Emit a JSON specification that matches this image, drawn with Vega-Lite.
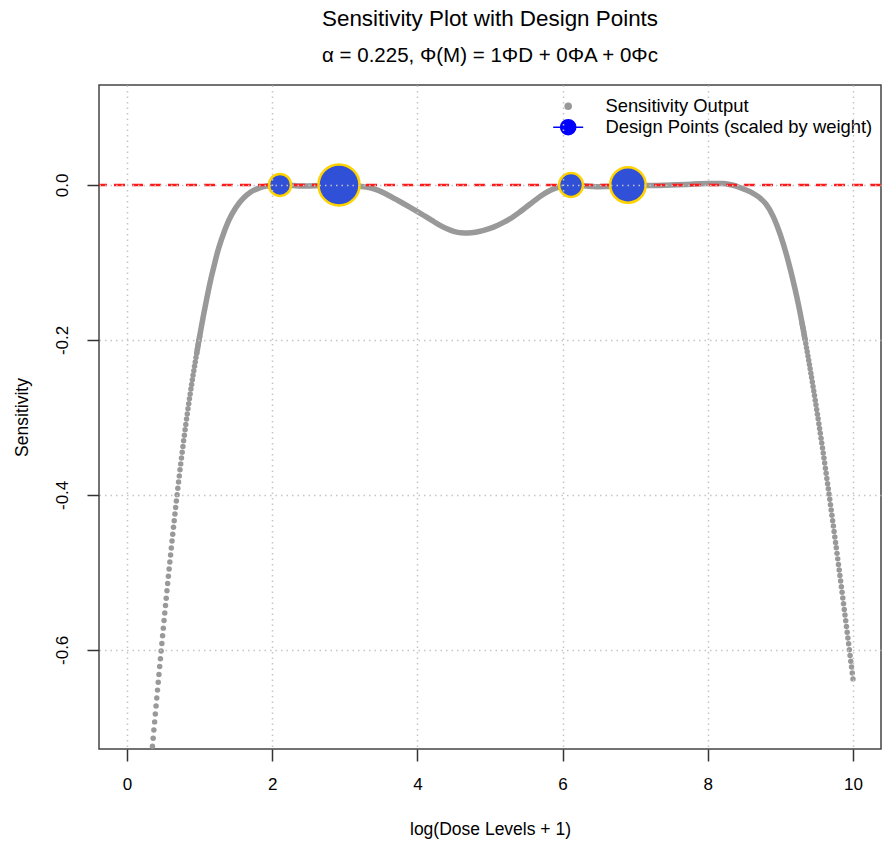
{
"$schema":"https://vega.github.io/schema/vega-lite/v6.json",
"width":782,"height":664,
"autosize":{"type":"none"},
"padding":{"left":99,"top":85,"right":2,"bottom":95},
"background":"white",
"config":{"font":"Liberation Sans","view":{"stroke":"#444","strokeWidth":1.5}},
"title":{"text":"Sensitivity Plot with Design Points","subtitle":"α = 0.225, Φ(M) = 1ΦD + 0ΦA + 0Φc","fontSize":22.4,"fontWeight":"normal","color":"#000","subtitleFontSize":20.5,"subtitleColor":"#000","subtitleFont":"Liberation Sans","subtitlePadding":15,"offset":19,"anchor":"middle"},
"datasets":{
"curve":[
{"x":0.35,"y":-0.7245},{"x":0.36,"y":-0.7140},{"x":0.37,"y":-0.7035},{"x":0.38,"y":-0.6930},{"x":0.39,"y":-0.6827},{"x":0.40,"y":-0.6725},
{"x":0.41,"y":-0.6622},{"x":0.42,"y":-0.6520},{"x":0.43,"y":-0.6418},{"x":0.44,"y":-0.6317},{"x":0.45,"y":-0.6216},{"x":0.46,"y":-0.6116},{"x":0.47,"y":-0.6016},{"x":0.48,"y":-0.5917},{"x":0.49,"y":-0.5818},{"x":0.50,"y":-0.5720},
{"x":0.51,"y":-0.5622},{"x":0.52,"y":-0.5525},{"x":0.53,"y":-0.5429},{"x":0.54,"y":-0.5333},{"x":0.55,"y":-0.5238},{"x":0.56,"y":-0.5144},{"x":0.57,"y":-0.5051},{"x":0.58,"y":-0.4958},{"x":0.59,"y":-0.4866},{"x":0.60,"y":-0.4775},
{"x":0.61,"y":-0.4685},{"x":0.62,"y":-0.4595},{"x":0.63,"y":-0.4507},{"x":0.64,"y":-0.4419},{"x":0.65,"y":-0.4333},{"x":0.66,"y":-0.4247},{"x":0.67,"y":-0.4163},{"x":0.68,"y":-0.4079},{"x":0.69,"y":-0.3997},{"x":0.70,"y":-0.3915},
{"x":0.71,"y":-0.3835},{"x":0.72,"y":-0.3755},{"x":0.73,"y":-0.3677},{"x":0.74,"y":-0.3600},{"x":0.75,"y":-0.3524},{"x":0.76,"y":-0.3449},{"x":0.77,"y":-0.3375},{"x":0.78,"y":-0.3302},{"x":0.79,"y":-0.3231},{"x":0.80,"y":-0.3160},
{"x":0.81,"y":-0.3091},{"x":0.82,"y":-0.3022},{"x":0.83,"y":-0.2955},{"x":0.84,"y":-0.2889},{"x":0.85,"y":-0.2824},{"x":0.86,"y":-0.2760},{"x":0.87,"y":-0.2697},{"x":0.88,"y":-0.2635},{"x":0.89,"y":-0.2575},{"x":0.90,"y":-0.2515},
{"x":0.91,"y":-0.2456},{"x":0.92,"y":-0.2398},{"x":0.93,"y":-0.2341},{"x":0.94,"y":-0.2284},{"x":0.95,"y":-0.2228},{"x":0.96,"y":-0.2172},{"x":0.97,"y":-0.2117},{"x":0.98,"y":-0.2062},{"x":0.99,"y":-0.2008},{"x":1.00,"y":-0.1955},
{"x":1.05,"y":-0.1699},{"x":1.10,"y":-0.1460},{"x":1.15,"y":-0.1235},{"x":1.20,"y":-0.1040},{"x":1.25,"y":-0.0856},{"x":1.30,"y":-0.0705},
{"x":1.4,"y":-0.0460},{"x":1.5,"y":-0.0290},{"x":1.6,"y":-0.0173},{"x":1.7,"y":-0.0095},{"x":1.8,"y":-0.0047},{"x":1.9,"y":-0.0019},{"x":2.0,"y":-0.0005},
{"x":2.1,"y":0.0},{"x":2.2,"y":-0.0003},{"x":2.3,"y":-0.0008},{"x":2.4,"y":-0.0012},{"x":2.5,"y":-0.0013},{"x":2.6,"y":-0.0011},{"x":2.7,"y":-0.0007},{"x":2.8,"y":-0.0003},{"x":2.9,"y":0.0},
{"x":3.0,"y":-0.0002},{"x":3.1,"y":-0.0007},{"x":3.2,"y":-0.0015},{"x":3.3,"y":-0.0028},{"x":3.4,"y":-0.0052},{"x":3.5,"y":-0.0086},{"x":3.6,"y":-0.0133},{"x":3.7,"y":-0.0184},{"x":3.8,"y":-0.0236},{"x":3.9,"y":-0.0289},
{"x":4.0,"y":-0.0343},{"x":4.1,"y":-0.0400},{"x":4.2,"y":-0.0458},{"x":4.3,"y":-0.0515},{"x":4.4,"y":-0.0563},{"x":4.5,"y":-0.0598},{"x":4.6,"y":-0.0617},{"x":4.7,"y":-0.0620},{"x":4.8,"y":-0.0610},{"x":4.9,"y":-0.0590},
{"x":5.0,"y":-0.0560},{"x":5.1,"y":-0.0522},{"x":5.2,"y":-0.0477},{"x":5.3,"y":-0.0423},{"x":5.4,"y":-0.0357},{"x":5.5,"y":-0.0285},{"x":5.6,"y":-0.0212},{"x":5.7,"y":-0.0143},{"x":5.8,"y":-0.0085},{"x":5.9,"y":-0.0043},
{"x":6.0,"y":-0.0015},{"x":6.1,"y":-0.0001},{"x":6.2,"y":-0.0004},{"x":6.3,"y":-0.0012},{"x":6.4,"y":-0.0019},{"x":6.5,"y":-0.0023},{"x":6.6,"y":-0.0021},{"x":6.7,"y":-0.0014},{"x":6.8,"y":-0.0005},{"x":6.9,"y":0.0},
{"x":7.0,"y":-0.0003},{"x":7.1,"y":-0.0006},{"x":7.2,"y":-0.0007},{"x":7.3,"y":-0.0006},{"x":7.4,"y":-0.0004},{"x":7.5,"y":-0.0001},{"x":7.6,"y":0.0003},{"x":7.7,"y":0.0007},{"x":7.8,"y":0.0011},{"x":7.9,"y":0.0015},
{"x":8.0,"y":0.0018},{"x":8.1,"y":0.0020},{"x":8.2,"y":0.0018},{"x":8.3,"y":0.0006},{"x":8.4,"y":-0.0018},{"x":8.5,"y":-0.0055},{"x":8.6,"y":-0.0095},{"x":8.7,"y":-0.0155},{"x":8.8,"y":-0.0245},{"x":8.9,"y":-0.0405},
{"x":9.0,"y":-0.0645},{"x":9.1,"y":-0.0955},{"x":9.2,"y":-0.1335},{"x":9.25,"y":-0.1550},
{"x":9.30,"y":-0.1790},{"x":9.31,"y":-0.1840},{"x":9.32,"y":-0.1891},{"x":9.33,"y":-0.1943},{"x":9.34,"y":-0.1994},{"x":9.35,"y":-0.2047},{"x":9.36,"y":-0.2100},{"x":9.37,"y":-0.2154},{"x":9.38,"y":-0.2208},{"x":9.39,"y":-0.2262},{"x":9.40,"y":-0.2318},
{"x":9.41,"y":-0.2373},{"x":9.42,"y":-0.2430},{"x":9.43,"y":-0.2486},{"x":9.44,"y":-0.2544},{"x":9.45,"y":-0.2601},{"x":9.46,"y":-0.2660},{"x":9.47,"y":-0.2718},{"x":9.48,"y":-0.2778},{"x":9.49,"y":-0.2837},{"x":9.50,"y":-0.2898},
{"x":9.51,"y":-0.2958},{"x":9.52,"y":-0.3019},{"x":9.53,"y":-0.3081},{"x":9.54,"y":-0.3143},{"x":9.55,"y":-0.3206},{"x":9.56,"y":-0.3269},{"x":9.57,"y":-0.3332},{"x":9.58,"y":-0.3396},{"x":9.59,"y":-0.3460},{"x":9.60,"y":-0.3525},
{"x":9.61,"y":-0.3590},{"x":9.62,"y":-0.3656},{"x":9.63,"y":-0.3722},{"x":9.64,"y":-0.3788},{"x":9.65,"y":-0.3855},{"x":9.66,"y":-0.3922},{"x":9.67,"y":-0.3990},{"x":9.68,"y":-0.4058},{"x":9.69,"y":-0.4126},{"x":9.70,"y":-0.4195},
{"x":9.71,"y":-0.4264},{"x":9.72,"y":-0.4334},{"x":9.73,"y":-0.4403},{"x":9.74,"y":-0.4473},{"x":9.75,"y":-0.4543},{"x":9.76,"y":-0.4614},{"x":9.77,"y":-0.4684},{"x":9.78,"y":-0.4755},{"x":9.79,"y":-0.4826},{"x":9.80,"y":-0.4898},
{"x":9.81,"y":-0.4969},{"x":9.82,"y":-0.5041},{"x":9.83,"y":-0.5113},{"x":9.84,"y":-0.5186},{"x":9.85,"y":-0.5258},{"x":9.86,"y":-0.5331},{"x":9.87,"y":-0.5404},{"x":9.88,"y":-0.5478},{"x":9.89,"y":-0.5551},{"x":9.90,"y":-0.5625},
{"x":9.91,"y":-0.5699},{"x":9.92,"y":-0.5773},{"x":9.93,"y":-0.5848},{"x":9.94,"y":-0.5923},{"x":9.95,"y":-0.5998},{"x":9.96,"y":-0.6073},{"x":9.97,"y":-0.6148},{"x":9.98,"y":-0.6223},{"x":9.99,"y":-0.6299},{"x":10.00,"y":-0.6375}
],
"design":[
{"x":2.107,"y":0,"w":0.18},{"x":2.92,"y":0,"w":0.335},{"x":6.116,"y":0,"w":0.195},{"x":6.90,"y":0,"w":0.29}
]},
"layer":[
{"data":{"name":"curve"},"transform":[{"filter":"datum.x >= 0.96 && datum.x <= 9.34"}],
 "mark":{"type":"line","strokeWidth":5.5,"interpolate":"monotone","strokeCap":"round"},
 "encoding":{
  "x":{"field":"x","type":"quantitative","scale":{"domain":[-0.386,10.386],"nice":false,"zero":false},
   "axis":{"title":"log(Dose Levels + 1)","values":[0,2,4,6,8,10],"format":"d","grid":true,"gridColor":"#c4c4c4","gridDash":[1.5,4],"gridWidth":1.5,"domain":false,"tickSize":12,"tickColor":"#333","tickWidth":1.5,"labelFontSize":17,"labelColor":"#000","labelPadding":15,"labelFlush":false,"labelOverlap":false,"titleFontSize":17.5,"titleFontWeight":"normal","titleColor":"#000","titlePadding":28,"zindex":1}},
  "y":{"field":"y","type":"quantitative","scale":{"domain":[-0.728,0.129],"nice":false,"zero":false},
   "axis":{"title":"Sensitivity","values":[-0.6,-0.4,-0.2,0],"labelExpr":"datum.value == 0 ? '0.0' : '-' + format(-datum.value, '.1f')","labelAngle":-90,"labelAlign":"center","labelBaseline":"bottom","grid":true,"gridColor":"#c4c4c4","gridDash":[1.5,4],"gridWidth":1.5,"domain":false,"tickSize":12,"tickColor":"#333","tickWidth":1.5,"labelFontSize":17,"labelColor":"#000","labelPadding":16,"labelOverlap":false,"titleFontSize":17.5,"titleFontWeight":"normal","titleColor":"#000","titlePadding":22,"zindex":1}},
  "color":{"datum":"Sensitivity Output","type":"nominal","scale":{"domain":["Sensitivity Output","Design Points (scaled by weight)"],"range":["#999999","#0000ff"]},
   "legend":{"title":null,"orient":"none","legendX":460,"legendY":12,"padding":0,"labelFontSize":18.4,"labelColor":"#000","labelLimit":0,"labelOffset":28,"symbolSize":36,"rowPadding":0,"symbolType":"circle",
    "encode":{"symbols":{"update":{
     "shape":{"signal":"datum.value === 'Sensitivity Output' ? 'circle' : 'M-2,0L2,0M1,0A1,1,0,1,1,-1,0A1,1,0,1,1,1,0Z'"},
     "size":{"signal":"datum.value === 'Sensitivity Output' ? 36 : 225"},
     "fill":{"signal":"datum.value === 'Sensitivity Output' ? '#999999' : '#0000ff'"},
     "stroke":{"signal":"datum.value === 'Sensitivity Output' ? 'transparent' : '#0000ff'"},
     "strokeWidth":{"value":1.6},"opacity":{"value":1},"fillOpacity":{"value":1}}}}}}
 }},
{"data":{"name":"curve"},"transform":[{"filter":"datum.x <= 1.0 || datum.x >= 9.3"}],
 "mark":{"type":"point","filled":true,"size":30,"opacity":1},
 "encoding":{
  "x":{"field":"x","type":"quantitative"},
  "y":{"field":"y","type":"quantitative"},
  "color":{"datum":"Sensitivity Output","type":"nominal"}
 }},
{"data":{"values":[{}]},
 "mark":{"type":"rule","color":"#ff1a1a","strokeDash":[11,7],"strokeWidth":2.5},
 "encoding":{"y":{"datum":0,"type":"quantitative"}}},
{"data":{"name":"design"},
 "mark":{"type":"point","filled":true,"fill":"#3050d8","stroke":"#FFD200","strokeWidth":2.5,"opacity":1},
 "encoding":{
  "x":{"field":"x","type":"quantitative"},
  "y":{"field":"y","type":"quantitative"},
  "size":{"field":"w","type":"quantitative","scale":{"type":"pow","exponent":2,"domain":[0,0.335],"range":[0,1681]},"legend":null}
 }}
]
}
